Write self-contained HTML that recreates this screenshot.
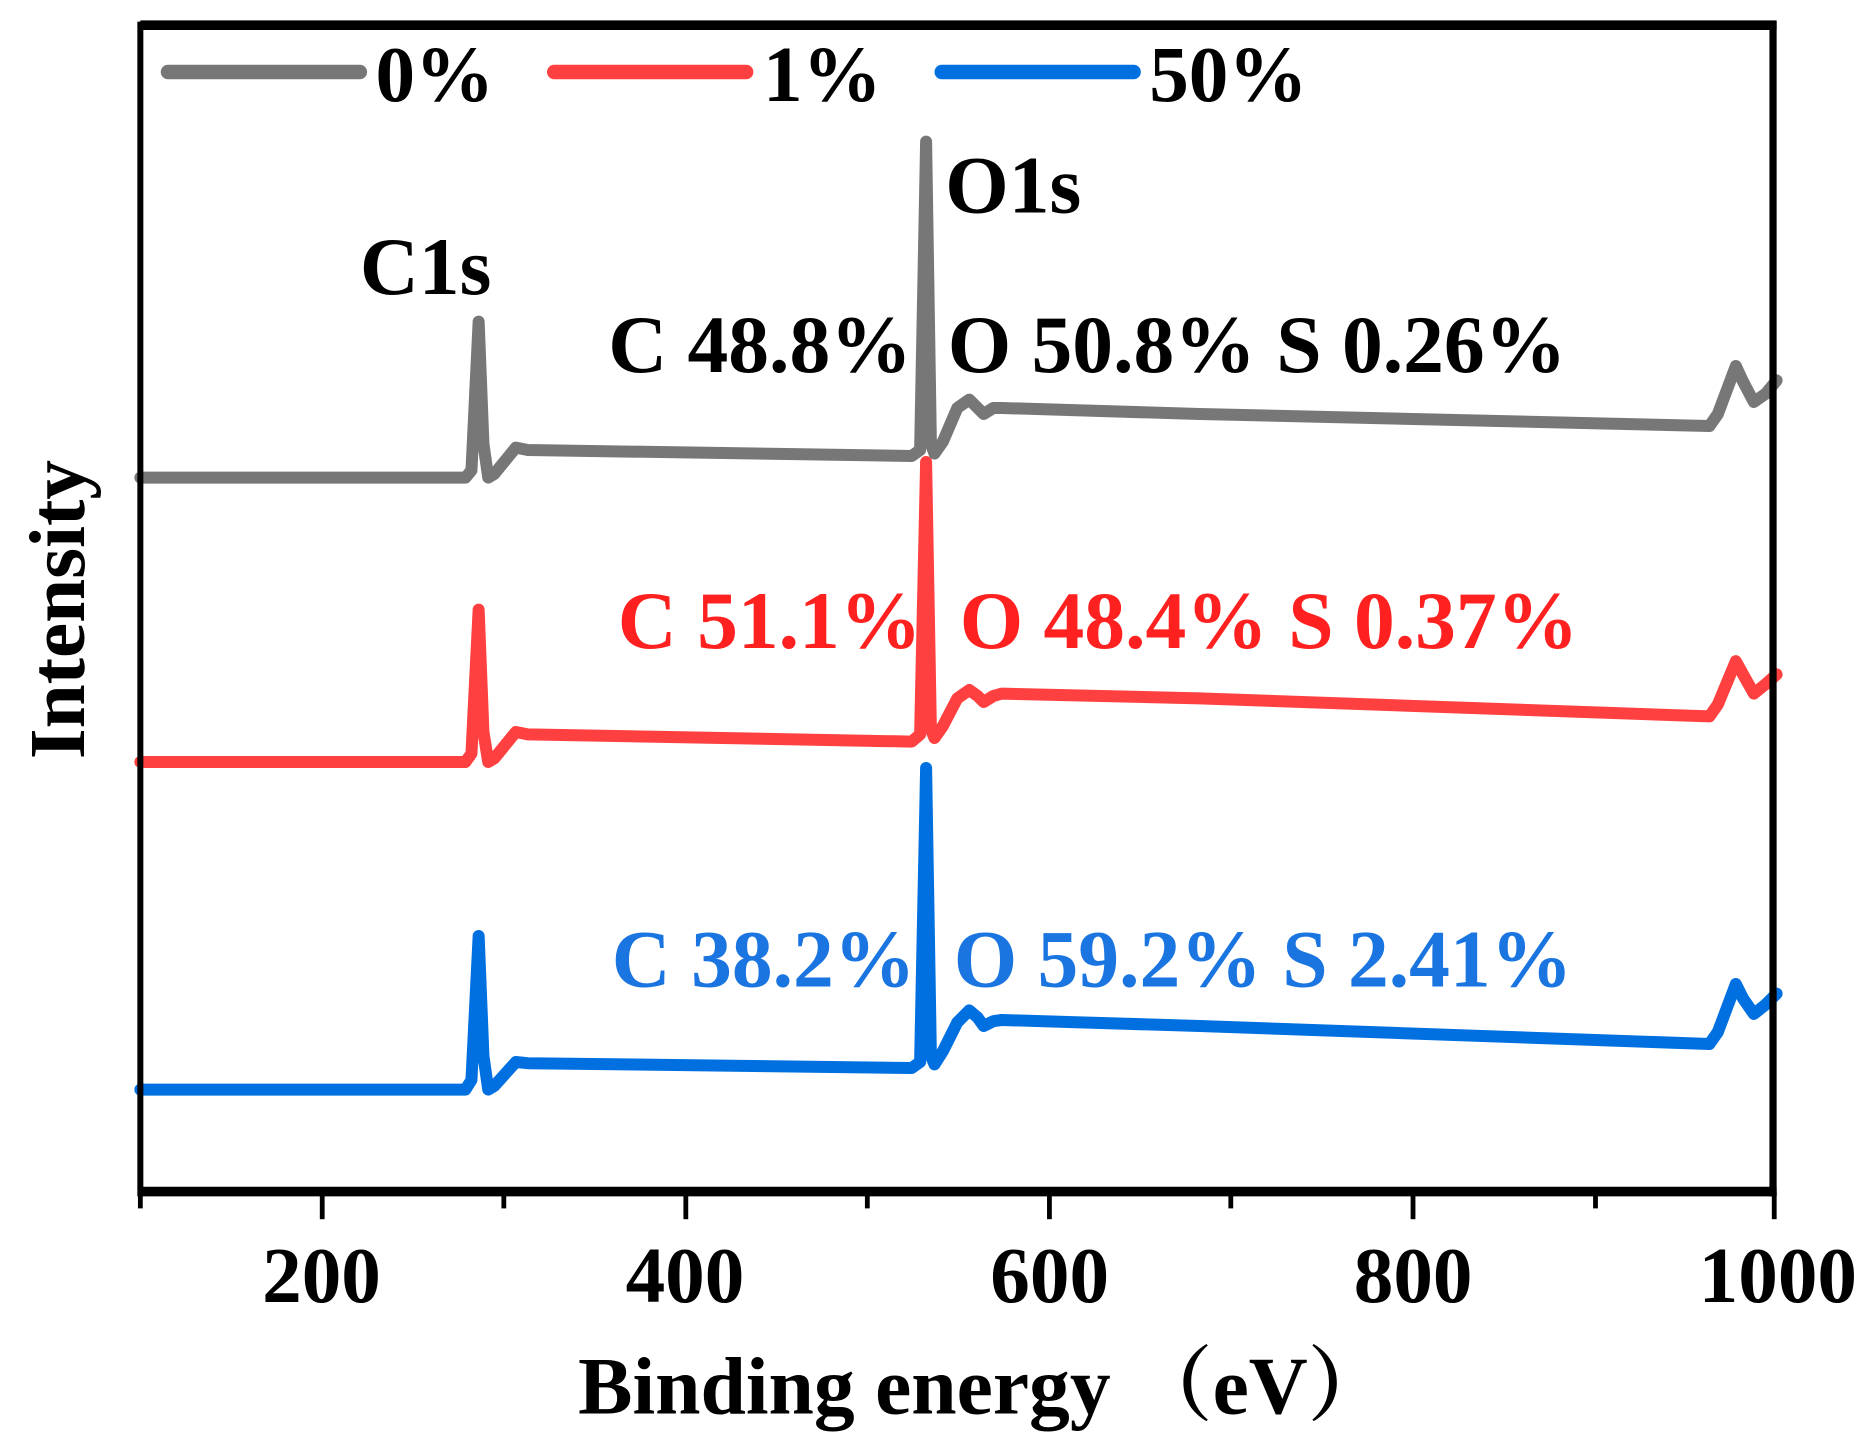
<!DOCTYPE html>
<html><head><style>html,body{margin:0;padding:0;background:#fff}svg{display:block}</style></head>
<body>
<svg width="1875" height="1452" viewBox="0 0 1563 1210" preserveAspectRatio="none" xmlns="http://www.w3.org/2000/svg" font-family="'Liberation Serif', serif" font-weight="bold">
<g fill="none" stroke-linejoin="round" stroke-linecap="round" stroke-width="10">
<path stroke="#777" d="M117 398 L388 398 L393 392 L399 268 L403 370 L407 398 L412 395 L430 373 L440 375 L760 380 L767 375 L772 118 L776 370 L779 378 L786 368 L798 340 L808 333 L815 340 L820 345 L828 340 L835 340 L1000 345 L1425 355 L1432 345 L1447 305 L1453 318 L1462 335 L1472 328 L1481 317"/>
<path stroke="#ff4040" d="M117 635 L388 635 L393 628 L399 508 L403 610 L407 635 L412 632 L430 610 L440 612 L760 618 L767 612 L772 385 L776 608 L779 615 L786 605 L798 582 L808 575 L815 580 L820 585 L828 580 L835 578 L1000 582 L1425 597 L1432 587 L1447 551 L1453 562 L1462 578 L1472 570 L1481 562"/>
<path stroke="#0070e0" d="M117 908 L388 908 L393 900 L399 780 L403 880 L407 908 L412 905 L430 885 L440 886 L760 890 L767 885 L772 640 L776 880 L779 887 L786 876 L798 852 L808 842 L815 848 L820 855 L828 851 L835 850 L1000 855 L1425 870 L1432 860 L1447 820 L1453 832 L1462 845 L1472 837 L1481 828"/>
<line x1="140" y1="60" x2="300" y2="60" stroke="#777" stroke-width="12"/>
<line x1="462" y1="60" x2="622" y2="60" stroke="#ff4040" stroke-width="12"/>
<line x1="785" y1="60" x2="945" y2="60" stroke="#0070e0" stroke-width="12"/>
</g>
<g stroke="#000" fill="none">
<line x1="117" y1="21" x2="1481" y2="21" stroke-width="8"/>
<line x1="117" y1="993" x2="1481" y2="993" stroke-width="8"/>
<line x1="117" y1="18" x2="117" y2="997" stroke-width="5"/>
<line x1="1478" y1="18" x2="1478" y2="997" stroke-width="6"/>
<g stroke-width="4">
<line x1="117" y1="993" x2="117" y2="1007"/><line x1="268.6" y1="993" x2="268.6" y2="1016"/>
<line x1="420" y1="993" x2="420" y2="1007"/><line x1="571.7" y1="993" x2="571.7" y2="1016"/>
<line x1="723" y1="993" x2="723" y2="1007"/><line x1="874.8" y1="993" x2="874.8" y2="1016"/>
<line x1="1026" y1="993" x2="1026" y2="1007"/><line x1="1177.9" y1="993" x2="1177.9" y2="1016"/>
<line x1="1330" y1="993" x2="1330" y2="1007"/><line x1="1479" y1="993" x2="1479" y2="1016"/>
</g></g>
<g font-size="66" text-anchor="middle" fill="#000">
<text x="268" y="1085">200</text><text x="571" y="1085">400</text><text x="875" y="1085">600</text><text x="1178" y="1085">800</text><text x="1482" y="1085">1000</text>
</g>
<text x="820" y="1178" font-size="68" text-anchor="middle" font-family="'Liberation Serif','Noto Serif CJK SC',serif">Binding energy （eV）</text>
<text transform="translate(70,508) rotate(-90)" font-size="66" text-anchor="middle">Intensity</text>
<g font-size="66">
<text x="313" y="84">0%</text><text x="636" y="84">1%</text><text x="958" y="84">50%</text>
</g>
<g font-size="68">
<text x="300" y="245">C1s</text><text x="788" y="177">O1s</text>
<text x="507" y="310">C 48.8%</text><text x="790" y="310">O 50.8% S 0.26%</text>
<g fill="#ff2020"><text x="515" y="540">C 51.1%</text><text x="800" y="540">O 48.4% S 0.37%</text></g>
<g fill="#1a75e0"><text x="510" y="822">C 38.2%</text><text x="795" y="822">O 59.2% S 2.41%</text></g>
</g>
</svg>
</body></html>
